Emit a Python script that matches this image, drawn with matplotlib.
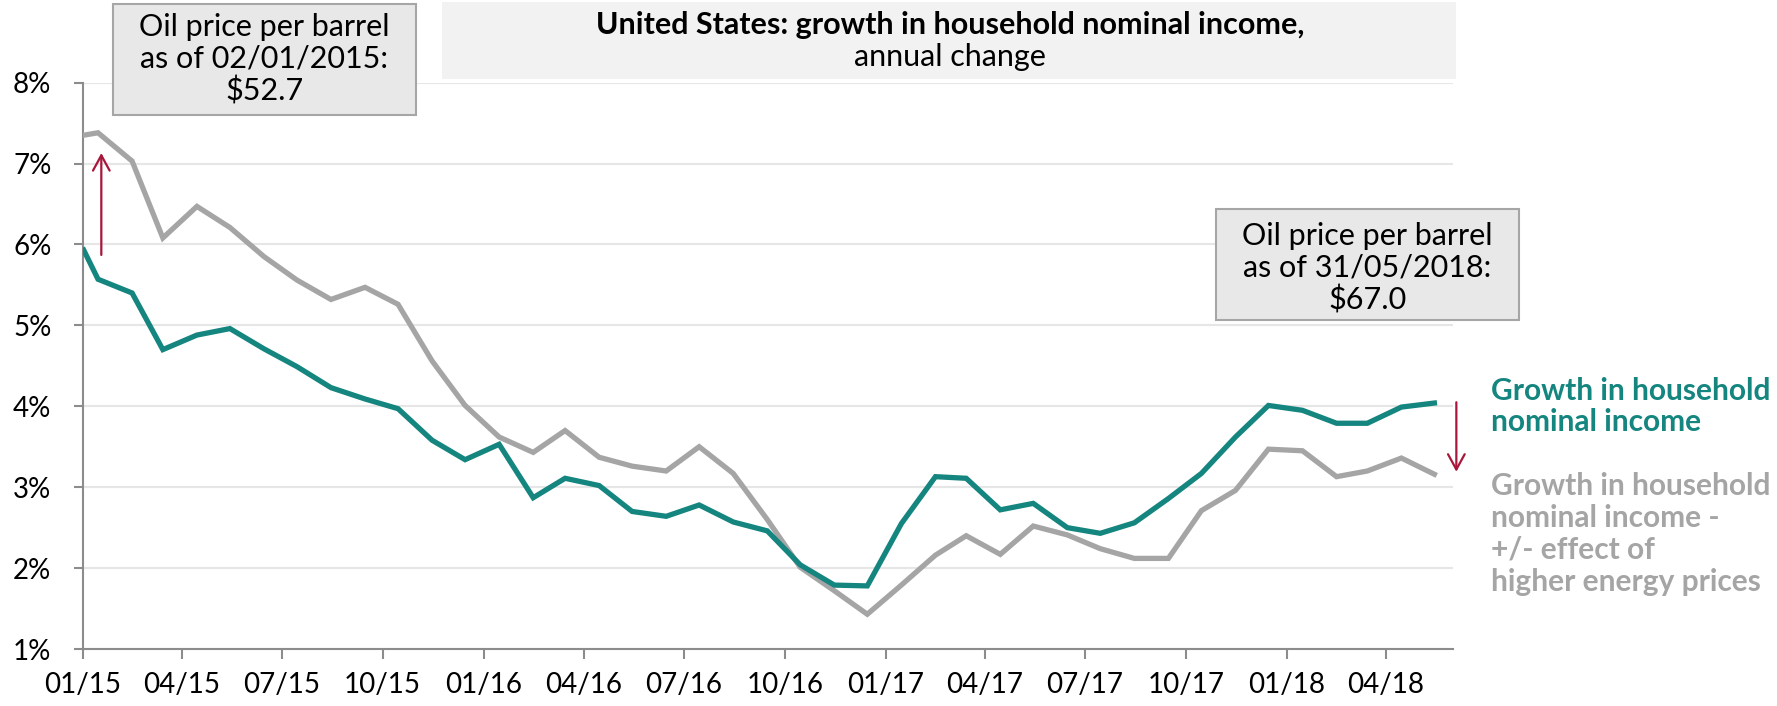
import numpy as np
import pandas as pd
import matplotlib
matplotlib.use("Agg")
import matplotlib.pyplot as plt
import matplotlib.dates as mdates
from matplotlib.patches import Rectangle

plt.rcParams['font.family'] = ['Lato', 'DejaVu Sans']

# first point is the oil-price reference day, then one point per month (mid-month)
dates = pd.DatetimeIndex([pd.Timestamp('2015-01-02')]).append(
    pd.date_range('2015-01-01', '2018-05-01', freq='MS') + pd.Timedelta(days=14))

income = [5.93, 5.57, 5.40, 4.70, 4.88, 4.96, 4.71, 4.49, 4.23, 4.09, 3.97,
          3.58, 3.34, 3.53, 2.87, 3.11, 3.02, 2.70, 2.64, 2.78, 2.57, 2.46,
          2.04, 1.79, 1.78, 2.55, 3.13, 3.11, 2.72, 2.80, 2.50, 2.43, 2.56,
          2.86, 3.17, 3.62, 4.01, 3.95, 3.79, 3.79, 3.99, 4.04]
income_adj = [7.35, 7.38, 7.03, 6.08, 6.47, 6.21, 5.85, 5.56, 5.32, 5.47, 5.26,
              4.56, 4.01, 3.62, 3.43, 3.70, 3.37, 3.26, 3.20, 3.50, 3.17, 2.60,
              2.01, 1.72, 1.43, 1.79, 2.16, 2.40, 2.17, 2.52, 2.41, 2.24, 2.12,
              2.12, 2.71, 2.96, 3.47, 3.45, 3.13, 3.20, 3.36, 3.16]

yticks = [1, 2, 3, 4, 5, 6, 7, 8]
box_left = "Oil price per barrel\nas of 02/01/2015:\n$52.7"
box_right = "Oil price per barrel\nas of 31/05/2018:\n$67.0"
label_income = "Growth in household\nnominal income"
label_adj = "Growth in household\nnominal income -\n+/- effect of\nhigher energy prices"

teal = '#15857f'
grey = '#a5a5a5'
red = '#a8173b'
axis_col = '#8c8c8c'

fig = plt.figure(figsize=(17.77, 7.06), dpi=100)
ax = fig.add_axes([0.0465, 0.0807, 0.8177 - 0.0465, 0.883 - 0.0807])

ax.plot(dates, income_adj, color=grey, lw=3.8, solid_joinstyle='miter', zorder=3)
ax.plot(dates, income, color=teal, lw=3.8, solid_joinstyle='miter', zorder=4)

ax.set_ylim(1, 8)
ax.set_yticks(yticks)
ax.set_yticklabels([f"{v}%" for v in yticks])
ax.set_xlim(pd.Timestamp('2015-01-01'), pd.Timestamp('2018-06-01'))
ax.xaxis.set_major_locator(mdates.MonthLocator(bymonth=[1, 4, 7, 10]))
ax.xaxis.set_major_formatter(mdates.DateFormatter('%m/%y'))

ax.grid(axis='y', color='#e6e6e6', lw=1.5, zorder=0)
for s in ['top', 'right']:
    ax.spines[s].set_visible(False)
for s in ['left', 'bottom']:
    ax.spines[s].set_color(axis_col)
    ax.spines[s].set_linewidth(1.5)
ax.tick_params(axis='y', length=6.5, width=1.5, color=axis_col, labelsize=20, pad=16)
ax.tick_params(axis='x', length=7.2, width=1.5, color=axis_col, labelsize=20, pad=9)

# arrows showing the energy-price effect
arrow = dict(arrowstyle='->,head_length=0.55,head_width=0.3', color=red, lw=1.6,
             shrinkA=0, shrinkB=0, mutation_scale=20)
ax.annotate('', xy=(pd.Timestamp('2015-01-18'), 7.13), xytext=(pd.Timestamp('2015-01-18'), 5.87),
            arrowprops=arrow, annotation_clip=False)
ax.annotate('', xy=(pd.Timestamp('2018-06-04'), 3.19), xytext=(pd.Timestamp('2018-06-04'), 4.05),
            arrowprops=arrow, annotation_clip=False)

# title box
fig.patches.append(Rectangle((0.2487, 0.8881), 0.5706, 0.109, transform=fig.transFigure,
                             facecolor='#f2f2f2', edgecolor='none', zorder=0))
fig.text(0.5346, 0.9646, "United States: growth in household nominal income,",
         ha='center', va='center', fontsize=22, fontweight='bold')
fig.text(0.5346, 0.9193, "annual change", ha='center', va='center', fontsize=22)

# oil price boxes
for (x0, y0, tx, ty, txt) in [(0.0636, 0.8378, 0.1488, 0.916, box_left),
                              (0.6843, 0.5467, 0.7696, 0.6204, box_right)]:
    fig.patches.append(Rectangle((x0, y0), 0.1705, 0.157, transform=fig.transFigure,
                                 facecolor='#e8e8e8', edgecolor='#a6a6a6', lw=1.5, zorder=5))
    fig.text(tx, ty, txt, ha='center', va='center', fontsize=22, linespacing=1.15, zorder=6)

# series labels
fig.text(0.839, 0.4249, label_income, ha='left', va='center', fontsize=21.5,
         fontweight='bold', color=teal, linespacing=1.13)
fig.text(0.839, 0.2436, label_adj, ha='left', va='center', fontsize=21.5,
         fontweight='bold', color=grey, linespacing=1.16)

fig.savefig('out.png', dpi=100)
